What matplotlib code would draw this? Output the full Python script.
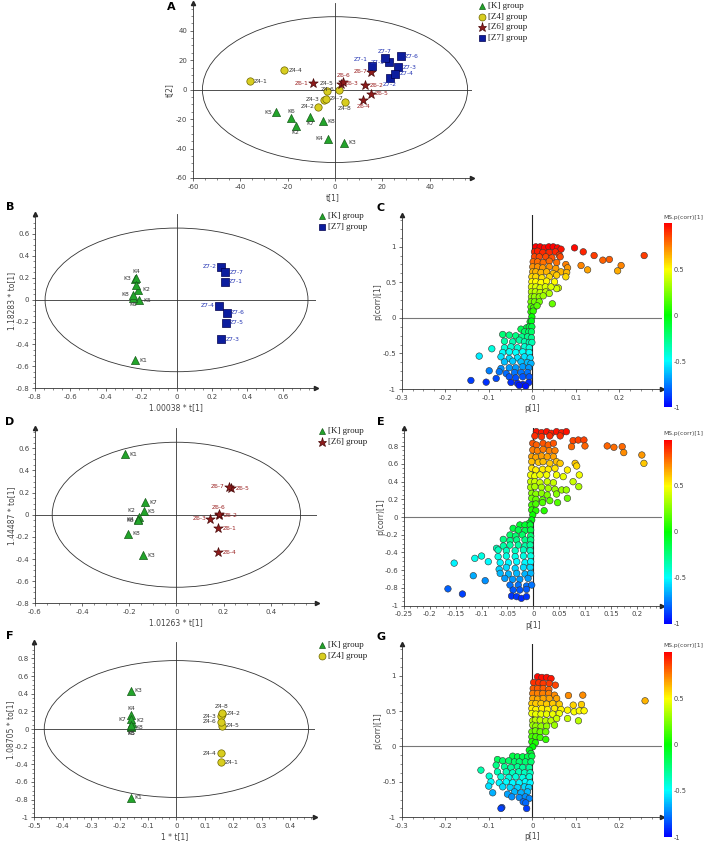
import matplotlib
matplotlib.use('Agg')
import matplotlib.pyplot as plt
from matplotlib.patches import Ellipse
from matplotlib.lines import Line2D
from matplotlib.colors import LinearSegmentedColormap, Normalize
from matplotlib.cm import ScalarMappable
from matplotlib.ticker import AutoMinorLocator, FuncFormatter

W, H = 708, 843

# ---------------- Panel A: PCA scores, all groups ----------------
a_k_lab = ['K2', 'K3', 'K4', 'K5', 'K6', 'K7', 'K8']
a_k_x = [-16.6, 3.8, -3.1, -24.8, -18.7, -10.4, -5.2]
a_k_y = [-24.5, -36.0, -33.3, -15.4, -19.5, -18.4, -21.5]
a_k_pos = ['b', 'r', 'l', 'l', 't', 'b', 'r']

a_z4_lab = ['Z4-1', 'Z4-2', 'Z4-3', 'Z4-4', 'Z4-5', 'Z4-6', 'Z4-7', 'Z4-8']
a_z4_x = [-35.9, -7.0, -4.8, -21.5, -3.5, 1.7, -4.0, 4.2]
a_z4_y = [5.8, -11.8, -6.8, 13.1, -0.7, 0.0, -6.2, -8.4]
a_z4_pos = ['r', 'l', 'l', 'r', 't', 'l', 'r', 'b']

a_z6_lab = ['Z6-1', 'Z6-2', 'Z6-3', 'Z6-4', 'Z6-5', 'Z6-6', 'Z6-7']
a_z6_x = [-9.2, 12.8, 2.5, 12.0, 15.2, 3.5, 15.4]
a_z6_y = [4.3, 2.9, 4.1, -6.8, -2.7, 5.2, 12.0]
a_z6_pos = ['l', 'r', 'r', 'b', 'r', 't', 'l']

a_z7_lab = ['Z7-1', 'Z7-2', 'Z7-3', 'Z7-4', 'Z7-5', 'Z7-6', 'Z7-7']
a_z7_x = [15.6, 23.1, 26.8, 25.5, 22.8, 27.7, 21.0]
a_z7_y = [16.2, 8.1, 15.1, 10.8, 18.7, 22.8, 21.4]
a_z7_pos = ['tl', 'b', 'r', 'r', 'l', 'r', 't']

# ---------------- Panel B: K vs Z7 ----------------
b_k_lab = ['K1', 'K2', 'K3', 'K4', 'K5', 'K6', 'K7', 'K8']
b_k_x = [-0.233, -0.216, -0.235, -0.23, -0.212, -0.244, -0.231, -0.244]
b_k_y = [-0.545, 0.09, 0.19, 0.2, -0.005, 0.02, 0.135, 0.045]
b_k_pos = ['r', 'r', 'l', 't', 'r', 'b', '', 'l']

b_z7_lab = ['Z7-1', 'Z7-2', 'Z7-3', 'Z7-4', 'Z7-5', 'Z7-6', 'Z7-7']
b_z7_x = [0.272, 0.249, 0.252, 0.24, 0.278, 0.284, 0.276]
b_z7_y = [0.163, 0.301, -0.355, -0.051, -0.208, -0.117, 0.25]
b_z7_pos = ['r', 'l', 'r', 'l', 'r', 'r', 'r']

# ---------------- Panel D: K vs Z6 ----------------
d_k_lab = ['K1', 'K2', 'K3', 'K4', 'K5', 'K6', 'K7', 'K8']
d_k_x = [-0.216, -0.158, -0.14, -0.161, -0.139, -0.162, -0.132, -0.204]
d_k_y = [0.548, -0.02, -0.367, -0.042, 0.033, -0.05, 0.114, -0.172]
d_k_pos = ['r', 'tl', 'r', 'l', 'r', 'l', 'r', 'r']

d_z6_lab = ['Z6-1', 'Z6-2', 'Z6-3', 'Z6-4', 'Z6-5', 'Z6-6', 'Z6-7']
d_z6_x = [0.177, 0.182, 0.144, 0.177, 0.233, 0.18, 0.222]
d_z6_y = [-0.123, -0.006, -0.036, -0.337, 0.241, 0.006, 0.253]
d_z6_pos = ['r', 'r', 'l', 'r', 'r', 't', 'l']

# ---------------- Panel F: K vs Z4 ----------------
f_k_lab = ['K1', 'K2', 'K3', 'K4', 'K5', 'K6', 'K7', 'K8']
f_k_x = [-0.161, -0.156, -0.161, -0.158, -0.16, -0.16, -0.161, -0.158]
f_k_y = [-0.777, 0.072, 0.434, 0.158, 0.02, 0.03, 0.109, 0.045]
f_k_pos = ['r', 'rt', 'r', 't', 'b', 'b', 'l', 'rb']

f_z4_lab = ['Z4-1', 'Z4-2', 'Z4-3', 'Z4-4', 'Z4-5', 'Z4-6', 'Z4-8']
f_z4_x = [0.157, 0.162, 0.157, 0.157, 0.16, 0.157, 0.16]
f_z4_y = [-0.377, 0.17, 0.145, -0.275, 0.035, 0.085, 0.18]
f_z4_pos = ['r', 'r', 'l', 'l', 'r', 'l', 't']

# ---------------- S-plots: p[1] and p(corr)[1] ----------------
c_p = [0.097, 0.117, 0.142, 0.162, 0.177, 0.257, 0.112, 0.127, 0.204, 0.196, 0.06, 0.056, 0.046,
       0.008, 0.018, 0.028, 0.038, 0.048, 0.058, 0.066,
       0.005, 0.012, 0.024, 0.039, 0.053, 0.062,
       0.005, 0.016, 0.031, 0.045, 0.064,
       0.002, 0.012, 0.025, 0.039, 0.056, 0.077,
       0.001, 0.012, 0.024, 0.039, 0.054, 0.081,
       0.001, 0.008, 0.02, 0.033, 0.048, 0.066, 0.079,
       -0.001, 0.008, 0.022, 0.039, 0.056, 0.077,
       -0.001, 0.008, 0.02, 0.033, 0.051,
       -0.002, 0.008, 0.018, 0.03, 0.043,
       -0.002, 0.007, 0.018, 0.031, 0.039,
       -0.002, 0.005, 0.016, 0.025,
       -0.003, 0.005, 0.016,
       -0.003, 0.003, 0.011,
       -0.003, 0.002, -0.001,
       -0.005, -0.002,
       -0.013, -0.007, -0.001,
       -0.026, -0.018, -0.008, -0.002,
       -0.068, -0.053, -0.038, -0.024, -0.011, -0.002,
       -0.064, -0.045, -0.03, -0.018, -0.007, -0.001,
       -0.064, -0.049, -0.034, -0.018, -0.007,
       -0.093, -0.068, -0.053, -0.038, -0.022, -0.007,
       -0.122, -0.072, -0.053, -0.034, -0.018, -0.005,
       -0.064, -0.045, -0.026, -0.011, -0.003,
       -0.072, -0.053, -0.038, -0.022, -0.008,
       -0.099, -0.076, -0.06, -0.041, -0.026, -0.011,
       -0.083, -0.053, -0.038, -0.022, -0.007,
       -0.141, -0.106, -0.049, -0.034, -0.022, -0.008, -0.03, -0.015]
c_pcorr = [0.983, 0.927, 0.875, 0.81, 0.82, 0.875, 0.735, 0.674, 0.735, 0.66, 0.42, 0.41, 0.197,
           0.997, 0.997, 0.983, 0.997, 0.997, 0.983, 0.964,
           0.927, 0.936, 0.918, 0.918, 0.927, 0.88,
           0.857, 0.857, 0.857, 0.843, 0.857,
           0.787, 0.787, 0.777, 0.796, 0.777, 0.749,
           0.716, 0.716, 0.702, 0.716, 0.693, 0.702,
           0.646, 0.646, 0.637, 0.646, 0.623, 0.646, 0.637,
           0.576, 0.576, 0.562, 0.576, 0.599, 0.576,
           0.506, 0.506, 0.496, 0.515, 0.506,
           0.435, 0.435, 0.421, 0.435, 0.435,
           0.365, 0.365, 0.356, 0.365, 0.342,
           0.295, 0.295, 0.295, 0.309,
           0.225, 0.225, 0.225,
           0.154, 0.14, 0.169,
           0.084, 0.094, 0.014,
           -0.056, -0.047,
           -0.14, -0.126, -0.126,
           -0.159, -0.197, -0.197, -0.197,
           -0.234, -0.243, -0.253, -0.267, -0.267, -0.281,
           -0.328, -0.337, -0.314, -0.337, -0.346, -0.346,
           -0.421, -0.407, -0.421, -0.407, -0.421,
           -0.435, -0.487, -0.478, -0.487, -0.478, -0.487,
           -0.538, -0.548, -0.571, -0.562, -0.548, -0.562,
           -0.618, -0.609, -0.618, -0.627, -0.641,
           -0.712, -0.702, -0.702, -0.688, -0.702,
           -0.744, -0.758, -0.782, -0.768, -0.768, -0.768,
           -0.852, -0.829, -0.843, -0.829, -0.829,
           -0.88, -0.904, -0.908, -0.922, -0.936, -0.908, -0.95, -0.96]

e_p = [0.006, 0.016, 0.026, 0.035, 0.045, 0.055, 0.064, 0.052, 0.032, 0.016, 0.003,
       0.077, 0.087, 0.098, 0.074, 0.1, 0.143, 0.156, 0.172, 0.175, 0.21, 0.214,
       -0.001, 0.006, 0.019, 0.029, 0.039,
       -0.001, 0.008, 0.019, 0.031, 0.042,
       -0.003, 0.005, 0.016, 0.027, 0.039,
       -0.003, 0.01, 0.019, 0.032, 0.045, 0.052, 0.081,
       -0.003, 0.005, 0.018, 0.029, 0.042, 0.066, 0.084,
       -0.005, 0.003, 0.013, 0.026, 0.045, 0.058, 0.089,
       -0.005, 0.003, 0.013, 0.027, 0.039, 0.077,
       -0.005, 0.003, 0.016, 0.029, 0.042, 0.055, 0.064, 0.088,
       -0.003, 0.005, 0.016, 0.027, 0.045,
       -0.003, 0.005, 0.018, 0.032, 0.066,
       -0.003, 0.005, 0.018, 0.047,
       -0.003, 0.005, 0.021,
       -0.001,
       -0.003, -0.008,
       -0.026, -0.016, -0.006,
       -0.039, -0.029, -0.016, -0.005,
       -0.045, -0.034, -0.021, -0.005,
       -0.058, -0.045, -0.032, -0.016, -0.005,
       -0.071, -0.058, -0.045, -0.029, -0.016, -0.006,
       -0.068, -0.052, -0.035, -0.019, -0.006,
       -0.113, -0.1, -0.087, -0.068, -0.052, -0.035, -0.019, -0.005,
       -0.064, -0.048, -0.032, -0.016, -0.005,
       -0.066, -0.052, -0.035, -0.019, -0.006,
       -0.116, -0.064, -0.048, -0.032, -0.016, -0.005,
       -0.093, -0.055, -0.04, -0.026, -0.01,
       -0.045, -0.029, -0.013, -0.003,
       -0.039, -0.026, -0.013,
       -0.042, -0.032, -0.023, -0.013,
       -0.137, -0.165, -0.153]
e_pcorr = [0.962, 0.951, 0.962, 0.944, 0.962, 0.951, 0.962, 0.914, 0.914, 0.906, 0.914,
           0.861, 0.868, 0.868, 0.793, 0.801, 0.801, 0.786, 0.793, 0.726, 0.699, 0.605,
           0.831, 0.812, 0.831, 0.812, 0.831,
           0.756, 0.748, 0.763, 0.748, 0.748,
           0.68, 0.673, 0.688, 0.68, 0.68,
           0.624, 0.617, 0.624, 0.605, 0.624, 0.605, 0.605,
           0.549, 0.53, 0.538, 0.538, 0.549, 0.53, 0.575,
           0.474, 0.462, 0.474, 0.474, 0.474, 0.455, 0.474,
           0.398, 0.398, 0.387, 0.398, 0.387, 0.398,
           0.335, 0.342, 0.335, 0.323, 0.312, 0.305, 0.305, 0.342,
           0.267, 0.259, 0.267, 0.248, 0.259,
           0.211, 0.199, 0.192, 0.184, 0.211,
           0.135, 0.147, 0.162, 0.162,
           0.079, 0.071, 0.071,
           0.023,
           -0.034, -0.071,
           -0.09, -0.09, -0.09,
           -0.128, -0.147, -0.154, -0.147,
           -0.203, -0.214, -0.203, -0.214,
           -0.252, -0.267, -0.259, -0.259, -0.259,
           -0.353, -0.327, -0.316, -0.316, -0.327, -0.316,
           -0.372, -0.38, -0.38, -0.372, -0.38,
           -0.466, -0.44, -0.504, -0.447, -0.44, -0.447, -0.44, -0.44,
           -0.515, -0.515, -0.504, -0.515, -0.504,
           -0.59, -0.568, -0.579, -0.568, -0.568,
           -0.662, -0.635, -0.643, -0.635, -0.643, -0.635,
           -0.718, -0.692, -0.703, -0.703, -0.692,
           -0.767, -0.767, -0.778, -0.767,
           -0.823, -0.823, -0.816,
           -0.891, -0.898, -0.917, -0.898,
           -0.868, -0.81, -0.52]

g_p = [0.012, 0.022, 0.033, 0.043,
       0.003, 0.015, 0.025, 0.039, 0.053,
       0.002, 0.012, 0.025, 0.038,
       0.001, 0.012, 0.024, 0.038, 0.051, 0.083, 0.116, 0.259,
       0.001, 0.012, 0.025, 0.039, 0.056,
       -0.001, 0.008, 0.02, 0.033, 0.047, 0.062, 0.094, 0.113,
       -0.001, 0.008, 0.022, 0.035, 0.051, 0.066, 0.081, 0.096, 0.108, 0.119,
       -0.001, 0.008, 0.02, 0.033, 0.047, 0.062,
       0.001, 0.007, 0.018, 0.031, 0.043, 0.056, 0.081, 0.106,
       0.001, 0.008, 0.02, 0.033, 0.051,
       -0.001, 0.007, 0.018, 0.031,
       -0.001, 0.008, 0.018, 0.031,
       -0.001, 0.007,
       0.001,
       -0.007, -0.003,
       -0.045, -0.034, -0.022, -0.011, -0.001,
       -0.08, -0.068, -0.054, -0.041, -0.03, -0.016, -0.003,
       -0.083, -0.064, -0.049, -0.034, -0.022, -0.007,
       -0.118, -0.08, -0.06, -0.045, -0.031, -0.018, -0.005,
       -0.099, -0.072, -0.054, -0.038, -0.022, -0.007,
       -0.095, -0.076, -0.06, -0.045, -0.03, -0.016, -0.005,
       -0.1, -0.068, -0.051, -0.034, -0.018, -0.008,
       -0.091, -0.057, -0.041, -0.026, -0.011,
       -0.047, -0.03, -0.016, -0.007,
       -0.021, -0.015,
       -0.07, -0.072, -0.013]
g_pcorr = [0.984, 0.975, 0.975, 0.96,
           0.904, 0.899, 0.89, 0.89, 0.866,
           0.819, 0.819, 0.819, 0.805,
           0.749, 0.749, 0.749, 0.749, 0.725, 0.72, 0.725, 0.645,
           0.678, 0.669, 0.678, 0.678, 0.678,
           0.607, 0.607, 0.607, 0.598, 0.607, 0.598, 0.584, 0.593,
           0.537, 0.523, 0.537, 0.523, 0.537, 0.523, 0.513, 0.49, 0.504, 0.504,
           0.466, 0.457, 0.457, 0.457, 0.457, 0.466,
           0.363, 0.372, 0.372, 0.363, 0.363, 0.395, 0.395, 0.363,
           0.301, 0.287, 0.287, 0.287, 0.301,
           0.207, 0.221, 0.207, 0.207,
           0.137, 0.137, 0.127, 0.099,
           0.066, 0.052,
           -0.005,
           -0.052, -0.099,
           -0.137, -0.146, -0.146, -0.146, -0.137,
           -0.184, -0.202, -0.202, -0.217, -0.217, -0.217, -0.217,
           -0.264, -0.287, -0.297, -0.287, -0.297, -0.297,
           -0.334, -0.358, -0.358, -0.372, -0.358, -0.372, -0.372,
           -0.419, -0.428, -0.438, -0.428, -0.438, -0.428,
           -0.499, -0.513, -0.499, -0.513, -0.513, -0.499, -0.513,
           -0.56, -0.57, -0.579, -0.579, -0.57, -0.579,
           -0.654, -0.673, -0.64, -0.654, -0.64,
           -0.711, -0.72, -0.711, -0.734,
           -0.782, -0.796,
           -0.862, -0.875, -0.876]

# colours
K_FACE, K_EDGE = '#22a52a', '#165c1a'
Z4_FACE, Z4_EDGE = '#d8cd1f', '#6e6600'
Z6_FACE, Z6_EDGE = '#8e1b1b', '#4a0a0a'
Z7_FACE, Z7_EDGE = '#0c1d9e', '#00004d'
smap = LinearSegmentedColormap.from_list('splot', ['#0000ff', '#00ffff', '#00ff00', '#ffff00', '#ff0000'])

fig = plt.figure(figsize=(W / 100, H / 100), dpi=100)


def px_axes(x0, y0, x1, y1):
    return fig.add_axes([x0 / W, 1 - y1 / H, (x1 - x0) / W, (y1 - y0) / H])


def tick_fmt(v, pos):
    if abs(v) < 1e-9:
        return '0'
    return '%g' % round(v, 3)


def style_axes(ax, xlim, ylim, xticks, yticks, xlabel, ylabel, w, h):
    ax.set_xlim(xlim)
    ax.set_ylim(ylim)
    ax.set_facecolor('none')
    for s in ['top', 'right']:
        ax.spines[s].set_visible(False)
    for s in ['left', 'bottom']:
        ax.spines[s].set_color('#333333')
        ax.spines[s].set_linewidth(0.6)
    ax.set_xticks(xticks)
    ax.set_yticks(yticks)
    ax.xaxis.set_minor_locator(AutoMinorLocator(4))
    ax.yaxis.set_minor_locator(AutoMinorLocator(4))
    ax.xaxis.set_major_formatter(FuncFormatter(tick_fmt))
    ax.yaxis.set_major_formatter(FuncFormatter(tick_fmt))
    ax.tick_params(which='major', length=2.5, width=0.5, color='#333333',
                   labelsize=5, labelcolor='#444444', pad=1.5)
    ax.tick_params(which='minor', length=1.3, width=0.4, color='#333333')
    ax.set_xlabel(xlabel, fontsize=5.5, color='#444444')
    ax.set_ylabel(ylabel, fontsize=5.5, color='#444444')
    ax.xaxis.set_label_coords(0.5, -15 / h)
    ax.yaxis.set_label_coords(-19 / w, 0.5)
    ax.plot(1, 0, '>', color='#222222', ms=3, transform=ax.transAxes, clip_on=False)
    ax.plot(0, 1, '^', color='#222222', ms=3, transform=ax.transAxes, clip_on=False)


OFFS = {'r': (3, 0, 'left', 'center'), 'l': (-3, 0, 'right', 'center'),
        't': (0, 3, 'center', 'bottom'), 'b': (0, -3, 'center', 'top'),
        'tl': (-3, 3, 'right', 'bottom'), 'rt': (3, 1.5, 'left', 'center'),
        'rb': (3, -2, 'left', 'center')}


def draw_group(ax, xs, ys, labs, pos, marker, face, edge, size, lab_color):
    ax.scatter(xs, ys, marker=marker, s=size, c=face, edgecolors=edge, linewidths=0.5, zorder=3)
    for x, y, n, p in zip(xs, ys, labs, pos):
        if not p:
            continue
        dx, dy, ha, va = OFFS[p]
        ax.annotate(n, (x, y), xytext=(dx, dy), textcoords='offset points',
                    ha=ha, va=va, fontsize=4.3, color=lab_color, zorder=4)


def score_base(ax, a, b):
    ax.add_patch(Ellipse((0, 0), 2 * a, 2 * b, fill=False, ec='#333333', lw=0.6, zorder=1))
    ax.axhline(0, color='#333333', lw=0.6, zorder=1)
    ax.axvline(0, color='#333333', lw=0.6, zorder=1)


def legend_entry(x, y, marker, face, edge, ms, text):
    fig.add_artist(Line2D([x / W], [1 - y / H], marker=marker, markersize=ms, color=face,
                          markeredgecolor=edge, markeredgewidth=0.5, linestyle='none',
                          transform=fig.transFigure))
    fig.text((x + 6) / W, 1 - y / H, text, fontsize=6.5, family='Liberation Serif',
             ha='left', va='center', color='#222222')


def splot(ax, p, pcorr, cax_box, lab_y):
    ax.axhline(0, color='#777777', lw=0.8, zorder=1)
    ax.axvline(0, color='#222222', lw=0.8, zorder=1)
    ax.scatter(p, pcorr, c=pcorr, cmap=smap, vmin=-1, vmax=1, s=22,
               edgecolors='#333333', linewidths=0.4, zorder=3)
    cax = px_axes(*cax_box)
    cb = fig.colorbar(ScalarMappable(norm=Normalize(-1, 1), cmap=smap), cax=cax,
                      ticks=[-1, -0.5, 0, 0.5])
    cb.outline.set_visible(False)
    cb.ax.yaxis.set_major_formatter(FuncFormatter(tick_fmt))
    cb.ax.tick_params(length=0, labelsize=4.8, labelcolor='#444444', pad=1)
    fig.text(683 / W, 1 - lab_y / H, 'MS.p(corr)[1]', fontsize=4.3, color='#444444',
             ha='center', va='center')


# Panel A
ax = px_axes(193, 2.7, 472.3, 178)
score_base(ax, 56, 49.5)
draw_group(ax, a_k_x, a_k_y, a_k_lab, a_k_pos, '^', K_FACE, K_EDGE, 34, '#333333')
draw_group(ax, a_z4_x, a_z4_y, a_z4_lab, a_z4_pos, 'o', Z4_FACE, Z4_EDGE, 28, '#333333')
draw_group(ax, a_z6_x, a_z6_y, a_z6_lab, a_z6_pos, '*', Z6_FACE, Z6_EDGE, 50, '#9b2222')
draw_group(ax, a_z7_x, a_z7_y, a_z7_lab, a_z7_pos, 's', Z7_FACE, Z7_EDGE, 27, '#2233b3')
style_axes(ax, (-60, 58), (-60, 59), range(-60, 41, 20), range(-60, 41, 20), 't[1]', 't[2]', 279, 175)
legend_entry(482, 6, '^', K_FACE, K_EDGE, 5, '[K] group')
legend_entry(482, 17, 'o', Z4_FACE, Z4_EDGE, 5, '[Z4] group')
legend_entry(482, 27, '*', Z6_FACE, Z6_EDGE, 6.5, '[Z6] group')
legend_entry(482, 38, 's', Z7_FACE, Z7_EDGE, 5, '[Z7] group')

# Panel B
ax = px_axes(35, 213.7, 316.3, 388.3)
score_base(ax, 0.743, 0.65)
draw_group(ax, b_k_x, b_k_y, b_k_lab, b_k_pos, '^', K_FACE, K_EDGE, 34, '#333333')
draw_group(ax, b_z7_x, b_z7_y, b_z7_lab, b_z7_pos, 's', Z7_FACE, Z7_EDGE, 27, '#2233b3')
style_axes(ax, (-0.8, 0.79), (-0.8, 0.78), [-0.8, -0.6, -0.4, -0.2, 0, 0.2, 0.4, 0.6],
           [-0.8, -0.6, -0.4, -0.2, 0, 0.2, 0.4, 0.6], '1.00038 * t[1]', '1.18283 * to[1]', 281, 175)
legend_entry(322, 216, '^', K_FACE, K_EDGE, 5, '[K] group')
legend_entry(322, 227, 's', Z7_FACE, Z7_EDGE, 5, '[Z7] group')

# Panel C
ax = px_axes(401.7, 214.6, 661.6, 389)
splot(ax, c_p, c_pcorr, (664, 223, 672, 407), 217)
style_axes(ax, (-0.3, 0.297), (-1, 1.45), [-0.3, -0.2, -0.1, 0, 0.1, 0.2],
           [-1, -0.5, 0, 0.5, 1], 'p[1]', 'p(corr)[1]', 260, 174)

# Panel D
ax = px_axes(35, 428.4, 316.6, 603.3)
score_base(ax, 0.527, 0.655)
draw_group(ax, d_k_x, d_k_y, d_k_lab, d_k_pos, '^', K_FACE, K_EDGE, 34, '#333333')
draw_group(ax, d_z6_x, d_z6_y, d_z6_lab, d_z6_pos, '*', Z6_FACE, Z6_EDGE, 50, '#9b2222')
style_axes(ax, (-0.6, 0.595), (-0.8, 0.78), [-0.6, -0.4, -0.2, 0, 0.2, 0.4],
           [-0.8, -0.6, -0.4, -0.2, 0, 0.2, 0.4, 0.6], '1.01263 * t[1]', '1.44487 * to[1]', 282, 175)
legend_entry(322, 431, '^', K_FACE, K_EDGE, 5, '[K] group')
legend_entry(322, 442, '*', Z6_FACE, Z6_EDGE, 6.5, '[Z6] group')

# Panel E
ax = px_axes(404, 428.3, 661.5, 605.7)
splot(ax, e_p, e_pcorr, (664, 440, 672, 624), 433)
style_axes(ax, (-0.25, 0.248), (-1, 1.0), [-0.25, -0.2, -0.15, -0.1, -0.05, 0, 0.05, 0.1, 0.15, 0.2],
           [-1, -0.8, -0.6, -0.4, -0.2, 0, 0.2, 0.4, 0.6, 0.8], 'p[1]', 'p(corr)[1]', 257, 177)

# Panel F
ax = px_axes(34.3, 641.6, 315, 817.3)
score_base(ax, 0.465, 0.775)
draw_group(ax, f_k_x, f_k_y, f_k_lab, f_k_pos, '^', K_FACE, K_EDGE, 34, '#333333')
draw_group(ax, f_z4_x, f_z4_y, f_z4_lab, f_z4_pos, 'o', Z4_FACE, Z4_EDGE, 28, '#333333')
style_axes(ax, (-0.5, 0.488), (-1, 0.99), [-0.5, -0.4, -0.3, -0.2, -0.1, 0, 0.1, 0.2, 0.3, 0.4],
           [-1, -0.8, -0.6, -0.4, -0.2, 0, 0.2, 0.4, 0.6, 0.8], '1 * t[1]', '1.08705 * to[1]', 281, 176)
legend_entry(322, 645, '^', K_FACE, K_EDGE, 5, '[K] group')
legend_entry(322, 656, 'o', Z4_FACE, Z4_EDGE, 5, '[Z4] group')

# Panel G
ax = px_axes(401.7, 643.8, 661.6, 817.3)
splot(ax, g_p, g_pcorr, (664, 652, 672, 837), 645)
style_axes(ax, (-0.3, 0.297), (-1, 1.45), [-0.3, -0.2, -0.1, 0, 0.1, 0.2],
           [-1, -0.5, 0, 0.5, 1], 'p[1]', 'p(corr)[1]', 260, 174)

# panel letters
for letter, x, y in [('A', 171, 7), ('B', 10, 207), ('C', 381, 208), ('D', 10, 422),
                     ('E', 381, 422), ('F', 10, 636), ('G', 381, 637)]:
    fig.text(x / W, 1 - y / H, letter, fontsize=8, fontweight='bold', ha='center', va='center')

fig.savefig('out.png', dpi=100)
